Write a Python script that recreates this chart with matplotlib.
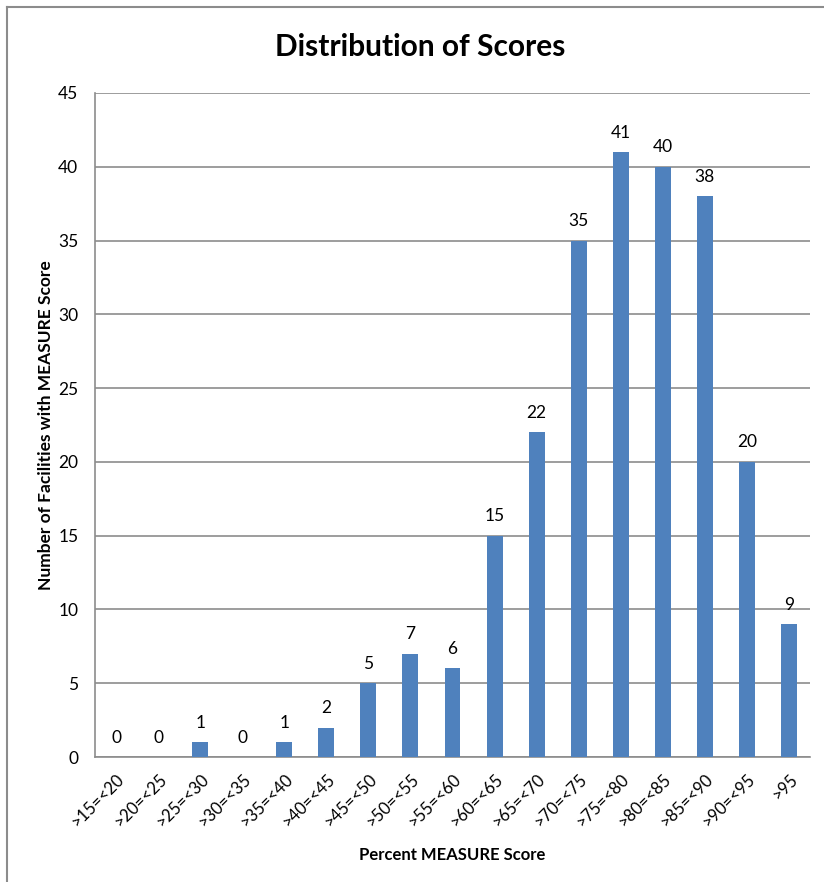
import matplotlib.pyplot as plt
from matplotlib.lines import Line2D

categories = ['>15=<20', '>20=<25', '>25=<30', '>30=<35', '>35=<40', '>40=<45',
              '>45=<50', '>50=<55', '>55=<60', '>60=<65', '>65=<70', '>70=<75',
              '>75=<80', '>80=<85', '>85=<90', '>90=<95', '>95']
counts = [0, 0, 1, 0, 1, 2, 5, 7, 6, 15, 22, 35, 41, 40, 38, 20, 9]
y_ticks = [0, 5, 10, 15, 20, 25, 30, 35, 40, 45]

plt.rcParams['font.family'] = ['Lato', 'DejaVu Sans']

fig = plt.figure(figsize=(8.24, 8.82), dpi=100)
ax = fig.add_axes([0.1153, 0.1417, 0.983 - 0.1153, 0.8946 - 0.1417])

x = range(len(categories))
ax.bar(x, counts, width=0.38, color='#4F81BD', zorder=3)

for i, v in enumerate(counts):
    ax.annotate(str(v), (i, v), xytext=(0, 14), textcoords='offset points',
                ha='center', va='center', fontsize=12.5, color='black')

ax.set_xlim(-0.5, len(categories) - 0.5)
ax.set_ylim(0, 45)
ax.set_yticks(y_ticks)
ax.set_xticks(list(x))
ax.set_xticklabels(categories, rotation=45, ha='right', rotation_mode='anchor',
                   fontsize=12)
ax.tick_params(axis='y', length=0, labelsize=12.5, pad=12)
ax.tick_params(axis='x', length=0, pad=10)
ax.yaxis.grid(True, color='#8c8c8c', linewidth=1.2, zorder=0)

for side in ['top', 'right']:
    ax.spines[side].set_visible(False)
for side in ['left', 'bottom']:
    ax.spines[side].set_color('#8c8c8c')
    ax.spines[side].set_linewidth(1.2)

ax.set_xlabel('Percent MEASURE Score', fontsize=12, fontweight='bold', labelpad=12)
ax.set_ylabel('Number of Facilities with MEASURE Score', fontsize=12.5,
              fontweight='bold', labelpad=3)
fig.text(0.51, 0.947, 'Distribution of Scores', ha='center', va='center',
         fontsize=21.5, fontweight='bold')

# frame around the chart object
fig.add_artist(Line2D([0.0085, 0.0085], [0, 0.992], color='#8c8c8c', lw=1.5))
fig.add_artist(Line2D([0.0085, 1.0], [0.992, 0.992], color='#8c8c8c', lw=1.5))

fig.savefig('out.png', dpi=100)
